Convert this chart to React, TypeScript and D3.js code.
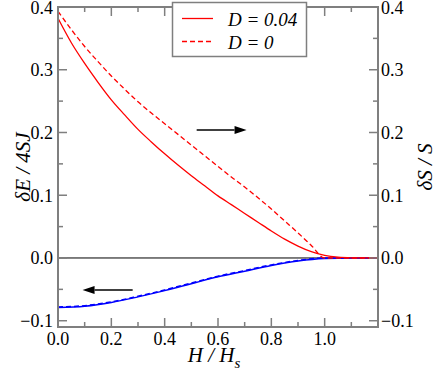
import React from 'react';
import * as d3 from 'd3';

// D = 0.04, energy curve (solid red)
const hSolid = [0, 0.05, 0.1, 0.15, 0.2, 0.25, 0.3, 0.35, 0.4, 0.45, 0.5, 0.55, 0.6, 0.65, 0.7, 0.75, 0.8, 0.85, 0.9, 0.95, 1.0, 1.05, 1.1, 1.15, 1.2];
const eSolid = [0.382, 0.343, 0.310, 0.280, 0.252, 0.228, 0.205, 0.185, 0.166, 0.148, 0.131, 0.115, 0.099, 0.085, 0.071, 0.057, 0.043, 0.030, 0.019, 0.010, 0.004, 0.0012, 0.0003, 0.0001, 0];

// D = 0, energy curve (dashed red)
const hDashed = [0, 0.05, 0.1, 0.15, 0.2, 0.25, 0.3, 0.35, 0.4, 0.45, 0.5, 0.55, 0.6, 0.65, 0.7, 0.75, 0.8, 0.85, 0.9, 0.95, 1.0, 1.1, 1.2];
const eDashed = [0.393, 0.364, 0.337, 0.313, 0.290, 0.269, 0.249, 0.231, 0.214, 0.197, 0.180, 0.163, 0.146, 0.129, 0.113, 0.096, 0.078, 0.059, 0.040, 0.020, 0, 0, 0];

// spin deviation curves (blue)
const hBlue = [0, 0.1, 0.2, 0.3, 0.4, 0.5, 0.6, 0.7, 0.8, 0.9, 1.0, 1.1, 1.2];
const sBlueSolid = [-0.079, -0.077, -0.071, -0.062, -0.052, -0.041, -0.030, -0.021, -0.012, -0.005, -0.001, 0, 0];
const sBlueDashed = [-0.078, -0.076, -0.070, -0.061, -0.051, -0.040, -0.029, -0.020, -0.011, -0.004, 0, 0, 0];

// arrows: [x1, x2, y]
const arrowRight = [0.52, 0.707, 0.204];
const arrowLeft = [0.28, 0.092, -0.051];

const xMajor = [0, 0.2, 0.4, 0.6, 0.8, 1.0];
const xMinor = [0.1, 0.3, 0.5, 0.7, 0.9, 1.1];
const yMajor = [-0.1, 0, 0.1, 0.2, 0.3, 0.4];
const yMinor = [-0.05, 0.05, 0.15, 0.25, 0.35];

const legendLabels = ['D = 0.04', 'D = 0'];

const W = 436;
const H = 376;
const m = { top: 7, right: 58, bottom: 49, left: 58 };
const axisColor = '#7f7f7f';
const font = "'Liberation Serif', 'Times New Roman', 'DejaVu Serif', serif";

export default function App() {
  const x = d3.scaleLinear().domain([0, 1.2]).range([m.left, W - m.right]);
  const y = d3.scaleLinear().domain([-0.11, 0.4]).range([H - m.bottom, m.top]);
  const x0 = x(0), x1 = x(1.2), yTop = y(0.4), yBot = y(-0.11);

  const line = d3
    .line<[number, number]>()
    .x((d) => x(d[0]))
    .y((d) => y(d[1]))
    .curve(d3.curveMonotoneX);

  const zip = (a: number[], b: number[]) => a.map((v, i) => [v, b[i]] as [number, number]);

  const arrow = (a: number[], key: string) => {
    const xa = x(a[0]), xb = x(a[1]), yy = y(a[2]);
    const dir = xb > xa ? 1 : -1;
    const hl = 12;
    return (
      <g key={key}>
        <line x1={xa} x2={xb - dir * hl} y1={yy} y2={yy} stroke="#000" strokeWidth={1.5} />
        <path d={`M${xb},${yy} L${xb - dir * hl},${yy - 4} L${xb - dir * hl},${yy + 4} Z`} fill="#000" />
      </g>
    );
  };

  return (
    <svg width={W} height={H} style={{ position: 'absolute', left: 0, top: 0, background: '#fff', fontFamily: font }}>
      {/* zero line */}
      <line x1={x0} x2={x1} y1={y(0)} y2={y(0)} stroke="#000" strokeWidth={1} />

      {/* curves */}
      <path d={line(zip(hBlue, sBlueDashed)) || ''} fill="none" stroke="#0000ff" strokeWidth={1.5} strokeDasharray="5,3" />
      <path d={line(zip(hBlue, sBlueSolid)) || ''} fill="none" stroke="#0000ff" strokeWidth={1.5} />
      <path d={line(zip(hDashed, eDashed)) || ''} fill="none" stroke="#ff0000" strokeWidth={1.3} strokeDasharray="5,3" />
      <path d={line(zip(hSolid, eSolid)) || ''} fill="none" stroke="#ff0000" strokeWidth={1.3} />

      {arrow(arrowRight, 'r')}
      {arrow(arrowLeft, 'l')}

      {/* ticks */}
      <g stroke={axisColor} strokeWidth={1.5}>
        {xMajor.map((t) => (
          <g key={'xm' + t}>
            <line x1={x(t)} x2={x(t)} y1={yBot} y2={yBot - 9} />
            <line x1={x(t)} x2={x(t)} y1={yTop} y2={yTop + 9} />
          </g>
        ))}
        {xMinor.map((t) => (
          <g key={'xn' + t}>
            <line x1={x(t)} x2={x(t)} y1={yBot} y2={yBot - 5} />
            <line x1={x(t)} x2={x(t)} y1={yTop} y2={yTop + 5} />
          </g>
        ))}
        {yMajor.map((t) => (
          <g key={'ym' + t}>
            <line x1={x0} x2={x0 + 9} y1={y(t)} y2={y(t)} />
            <line x1={x1} x2={x1 - 9} y1={y(t)} y2={y(t)} />
          </g>
        ))}
        {yMinor.map((t) => (
          <g key={'yn' + t}>
            <line x1={x0} x2={x0 + 5} y1={y(t)} y2={y(t)} />
            <line x1={x1} x2={x1 - 5} y1={y(t)} y2={y(t)} />
          </g>
        ))}
      </g>

      {/* frame */}
      <rect x={x0} y={yTop} width={x1 - x0} height={yBot - yTop} fill="none" stroke={axisColor} strokeWidth={2} />

      {/* tick labels */}
      <g style={{ fontFamily: font, fontSize: 18 }} fill="#000">
        {xMajor.map((t) => (
          <text key={'xl' + t} x={x(t)} y={yBot + 18} textAnchor="middle">
            {d3.format('.1f')(t)}
          </text>
        ))}
        {yMajor.map((t) => (
          <g key={'yl' + t}>
            <text x={x0 - 5} y={y(t) + 6.5} textAnchor="end">
              {d3.format('.1f')(t)}
            </text>
            <text x={x1 + 3} y={y(t) + 6.5} textAnchor="start">
              {d3.format('.1f')(t)}
            </text>
          </g>
        ))}
      </g>

      {/* axis titles */}
      <g style={{ fontFamily: font, fontSize: 21, fontStyle: 'italic' }} fill="#000">
        <text x={214} y={362} textAnchor="middle">
          H / H<tspan style={{ fontSize: 15 }} dy={6}>s</tspan>
        </text>
        <text transform={`translate(30,${(yTop + yBot) / 2}) rotate(-90)`} textAnchor="middle">
          δE / 4SJ
        </text>
        <text transform={`translate(432,${(yTop + yBot) / 2}) rotate(-90)`} textAnchor="middle">
          δS / S
        </text>
      </g>

      {/* legend */}
      <g>
        <rect x={172.5} y={2.5} width={134} height={54} fill="#fff" stroke={axisColor} strokeWidth={1.5} />
        <line x1={182} x2={213} y1={18.5} y2={18.5} stroke="#ff0000" strokeWidth={1.3} />
        <line x1={182} x2={213} y1={41.5} y2={41.5} stroke="#ff0000" strokeWidth={1.3} strokeDasharray="5,3" />
        {legendLabels.map((l, i) => (
          <text key={l} x={228} y={26 + i * 22.5} style={{ fontFamily: font, fontSize: 19, fontStyle: 'italic' }} fill="#000">
            {l}
          </text>
        ))}
      </g>
    </svg>
  );
}
